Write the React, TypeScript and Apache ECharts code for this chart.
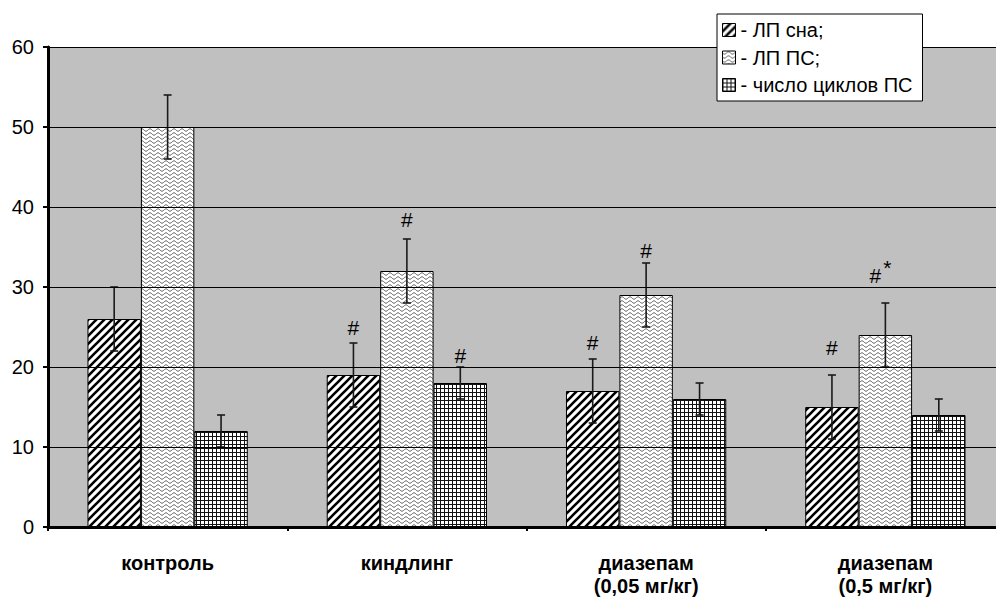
import React, { useEffect, useRef } from "react";
import * as echarts from "echarts";

const categories = ["контроль", "киндлинг", "диазепам\n(0,05 мг/кг)", "диазепам\n(0,5 мг/кг)"];
const seriesNames = ["ЛП сна;", "ЛП ПС;", "число циклов ПС"];

const sleepLatency = [26, 19, 17, 15];
const remLatency = [50, 32, 29, 24];
const remCycles = [12, 18, 16, 14];

const sleepErr = [4, 4, 4, 4];
const remErr = [4, 4, 4, 4];
const cyclesErr = [2, 2, 2, 2];

// significance marks and the value level (y) where each is written
const sleepMarks = ["", "#", "#", "#"];
const remMarks = ["", "#", "#", "#*"];
const cyclesMarks = ["", "#", "", ""];
const sleepMarkY = [0, 25, 23.1, 22.5];
const remMarkY = [0, 38.5, 34.6, 31.5];
const cyclesMarkY = [0, 21.5, 0, 0];

const yTicks = { min: 0, max: 60, interval: 10 };

const FONT = "'Liberation Sans', Arial, sans-serif";
const BAR_GAP_CAT = 0.33;

function tile(w: number, h: number, draw: (c: CanvasRenderingContext2D) => void) {
  const cv = document.createElement("canvas");
  cv.width = w;
  cv.height = h;
  const ctx = cv.getContext("2d")!;
  ctx.fillStyle = "#fff";
  ctx.fillRect(0, 0, w, h);
  draw(ctx);
  return { image: cv, repeat: "repeat", imageWidth: w, imageHeight: h } as any;
}

export default function App() {
  const ref = useRef<HTMLDivElement>(null);
  useEffect(() => {
    if (!ref.current) return;
    const chart = echarts.init(ref.current, undefined, { renderer: "svg" });

    const diag = tile(8, 8, (c) => {
      c.strokeStyle = "#000";
      c.lineWidth = 2.6;
      c.beginPath();
      for (const o of [-8, 0, 8]) {
        c.moveTo(o - 1, 9);
        c.lineTo(o + 9, -1);
      }
      c.stroke();
    });
    const wave = tile(8, 4, (c) => {
      c.strokeStyle = "#555";
      c.lineWidth = 1;
      c.beginPath();
      for (let x = 0; x <= 8; x += 0.5) {
        const y = 2 + 1.2 * Math.sin((x / 8) * Math.PI * 2);
        if (x === 0) c.moveTo(x, y);
        else c.lineTo(x, y);
      }
      c.stroke();
    });
    const grid = tile(4, 4, (c) => {
      c.fillStyle = "#111";
      c.fillRect(0, 0, 1, 4);
      c.fillRect(0, 0, 4, 1);
    });
    const patterns = [diag, wave, grid];
    const values = [sleepLatency, remLatency, remCycles];
    const errs = [sleepErr, remErr, cyclesErr];
    const marks = [sleepMarks, remMarks, cyclesMarks];
    const markYs = [sleepMarkY, remMarkY, cyclesMarkY];

    const barSeries = seriesNames.map((name, s) => ({
      name,
      type: "bar",
      data: values[s],
      barGap: "0%",
      barCategoryGap: BAR_GAP_CAT * 100 + "%",
      itemStyle: { color: patterns[s], borderColor: "#000", borderWidth: 1 },
      z: 2,
    }));

    const errSeries = seriesNames.map((name, s) => ({
      name: name + "_err",
      type: "custom",
      z: 5,
      clip: false,
      data: values[s].map((v, i) => [i, v, errs[s][i]]),
      encode: { x: 0, y: 1 },
      renderItem: (params: any, api: any) => {
        const i = params.dataIndex;
        const cat = api.value(0);
        const v = api.value(1);
        const e = api.value(2);
        const band = api.size([1, 0])[0];
        const barW = (band * (1 - BAR_GAP_CAT)) / 3;
        const cx = api.coord([cat, 0])[0] + (s - 1) * barW;
        const yT = api.coord([cat, v + e])[1];
        const yB = api.coord([cat, v - e])[1];
        const cap = 4;
        const ls = { stroke: "#1a1a1a", lineWidth: 1.6 };
        const children: any[] = [
          { type: "line", shape: { x1: cx, y1: yT, x2: cx, y2: yB }, style: ls },
          { type: "line", shape: { x1: cx - cap, y1: yT, x2: cx + cap, y2: yT }, style: ls },
          { type: "line", shape: { x1: cx - cap, y1: yB, x2: cx + cap, y2: yB }, style: ls },
        ];
        const m = marks[s][i];
        if (m) {
          const my = api.coord([cat, markYs[s][i]])[1];
          const main = m[0];
          const sup = m.slice(1);
          const mx = sup ? cx - 10 : cx;
          children.push({
            type: "text",
            style: {
              text: main,
              x: mx,
              y: my,
              align: "center",
              verticalAlign: "middle",
              fontSize: 21,
              fontFamily: FONT,
              fill: "#000",
            },
          });
          if (sup) {
            children.push({
              type: "text",
              style: {
                text: sup,
                x: mx + 12,
                y: my - 8,
                align: "center",
                verticalAlign: "middle",
                fontSize: 21,
                fontFamily: FONT,
                fill: "#000",
              },
            });
          }
        }
        return { type: "group", children };
      },
    }));

    chart.setOption({
      animation: false,
      legend: {
        data: seriesNames,
        orient: "vertical",
        left: 717,
        top: 14,
        padding: [6, 10, 6, 5],
        itemGap: 7.5,
        itemWidth: 13,
        itemHeight: 13,
        icon: "rect",
        backgroundColor: "#fff",
        borderColor: "#000",
        borderWidth: 1,
        borderRadius: 0,
        formatter: (n: string) => "- " + n,
        textStyle: { fontSize: 20, fontFamily: FONT, color: "#000" },
        itemStyle: { borderColor: "#000", borderWidth: 1 },
        z: 20,
      },
      grid: {
        left: 48,
        top: 47,
        width: 957,
        bottom: 72,
        show: true,
        backgroundColor: "#c0c0c0",
        borderWidth: 0,
        containLabel: false,
        outerBoundsMode: "none",
      },
      xAxis: {
        type: "category",
        data: categories,
        axisLine: { lineStyle: { color: "#000", width: 3 } },
        axisTick: { show: true, length: 4, lineStyle: { color: "#000", width: 2 } },
        axisLabel: {
          fontSize: 20,
          fontWeight: "bold",
          fontFamily: FONT,
          color: "#000",
          margin: 24,
          lineHeight: 23,
        },
        z: 10,
      },
      yAxis: {
        type: "value",
        min: yTicks.min,
        max: yTicks.max,
        interval: yTicks.interval,
        axisLine: { show: true, lineStyle: { color: "#000", width: 3 } },
        axisTick: { show: true, length: 5, lineStyle: { color: "#000", width: 2 } },
        axisLabel: { fontSize: 20, fontFamily: FONT, color: "#000", margin: 14 },
        splitLine: { show: true, lineStyle: { color: "#000", width: 1 } },
        z: 10,
      },
      series: [...barSeries, ...errSeries],
    } as any);
    return () => chart.dispose();
  }, []);
  return (
    <div
      ref={ref}
      style={{ position: "absolute", left: 0, top: 0, width: 996, height: 599, background: "#fff" }}
    />
  );
}
